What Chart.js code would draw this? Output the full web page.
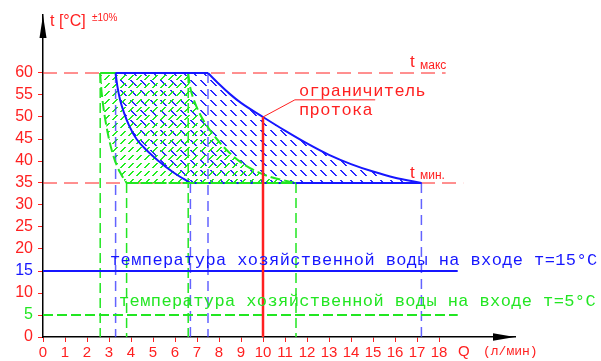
<!DOCTYPE html>
<html lang="ru">
<head>
<meta charset="UTF-8">
<title>Температура / расход</title>
<script src="https://cdnjs.cloudflare.com/ajax/libs/Chart.js/4.4.1/chart.umd.min.js"></script>
<style>
    html, body { margin: 0; padding: 0; background: #fff; }
    #wrap { width: 601px; height: 361px; }
</style>
</head>
<body>
<div id="wrap"><canvas id="chart" width="601" height="361"></canvas></div>
<script>
// axis ticks
const xTicks = [0, 1, 2, 3, 4, 5, 6, 7, 8, 9, 10, 11, 12, 13, 14, 15, 16, 17, 18];
const yTicks = [0, 5, 10, 15, 20, 25, 30, 35, 40, 45, 50, 55, 60];

// limits of outlet temperature
const tMax = 60;
const tMin = 35;

// zone for inlet water 15 °C (blue)
const blueLeftQ = [3.3, 3.38, 3.5, 3.68, 3.92, 4.25, 4.7, 5.25, 5.9, 6.7];
const blueLeftT = [60, 57, 54, 51, 48, 45, 42.5, 40, 37.5, 35];
const blueRightQ = [7.5, 8, 8.5, 9, 10, 11, 12, 13, 14, 15, 16, 17.2];
const blueRightT = [60, 57.5, 55.2, 53.2, 50, 46.9, 44, 41.4, 39.3, 37.6, 36.2, 35];

// zone for inlet water 5 °C (green)
const greenLeftQ = [2.6, 2.64, 2.7, 2.78, 2.88, 3.0, 3.15, 3.35, 3.55, 3.8];
const greenLeftT = [60, 57, 54, 51, 48, 45, 42, 39, 37, 35];
const greenRightQ = [6.6, 6.68, 6.85, 7.1, 7.45, 7.9, 8.45, 9.2, 10.2, 11.5];
const greenRightT = [60, 57, 54, 51, 48, 45, 42, 39, 36.6, 35];

// vertical projections to the Q axis
const blueDropQ = [3.3, 6.7, 7.5, 17.2];
const blueDropT = [60, 35, 60, 35];
const greenDropQ = [2.6, 3.8, 6.6, 11.5];
const greenDropT = [60, 35, 60, 35];

// inlet temperature lines
const inletT = [15, 5];
const inletEndQ = 18.85;

// flow limiter
const limiterQ = 10;
const limiterT = 50;

const RED = '#ff2020';
const BLUE = '#1616ff';
const GREEN = '#22e622';

const pts = (qs, ts) => qs.map((q, i) => ({x: q, y: ts[i]}));

function drops(qs, ts) {
    const out = [];
    qs.forEach((q, i) => {
        out.push({x: q, y: ts[i]}, {x: q, y: 0}, {x: q, y: null});
    });
    return out;
}

// pixel hatch, no antialiasing like the original drawing
function hatch(color, size, len, down) {
    const c = document.createElement('canvas');
    c.width = size;
    c.height = size;
    const g = c.getContext('2d');
    g.fillStyle = color;
    for (let i = 0; i < len; i++) {
        g.fillRect(i, down ? i : size - 1 - i, 2, 1);
    }
    return g.createPattern(c, 'repeat');
}

const blueFill = [...pts(blueRightQ, blueRightT), ...pts(blueLeftQ, blueLeftT).reverse()];
const greenFill = [...pts(greenRightQ, greenRightT), ...pts(greenLeftQ, greenLeftT).reverse()];

const base = {pointRadius: 0, fill: false, tension: 0, borderCapStyle: 'butt'};
const curve = {cubicInterpolationMode: 'monotone'};

const datasets = [
    // reference levels
    {...base, data: [{x: 0, y: tMax}, {x: 18.3, y: tMax}], borderColor: RED, borderWidth: 1, borderDash: [14, 7], order: 20},
    {...base, data: [{x: 0, y: tMin}, {x: 19.1, y: tMin}], borderColor: RED, borderWidth: 1, borderDash: [14, 7], order: 20},
    // fills
    {...base, ...curve, data: blueFill, borderWidth: 0, borderColor: 'rgba(0,0,0,0)', fill: 'shape', backgroundColor: hatch('#2a2aff', 10, 6, true), order: 19},
    {...base, ...curve, data: greenFill, borderWidth: 0, borderColor: 'rgba(0,0,0,0)', fill: 'shape', backgroundColor: hatch('#22ee22', 8, 5, false), order: 18},
    // projections
    {...base, data: drops(blueDropQ, blueDropT), borderColor: 'rgba(60,60,255,0.8)', borderWidth: 1.5, borderDash: [10, 6], order: 17},
    {...base, data: drops(greenDropQ, greenDropT), borderColor: GREEN, borderWidth: 1.5, borderDash: [10, 5], order: 16},
    // green outline
    {...base, data: [{x: greenLeftQ[0], y: tMax}, {x: greenRightQ[0], y: tMax}], borderColor: GREEN, borderWidth: 2, order: 15},
    {...base, ...curve, data: pts(greenLeftQ, greenLeftT), borderColor: GREEN, borderWidth: 2, borderDash: [10, 4], order: 15},
    {...base, ...curve, data: pts(greenRightQ, greenRightT), borderColor: GREEN, borderWidth: 2, borderDash: [10, 4], order: 15},
    // blue outline
    {...base, data: [{x: blueLeftQ[0], y: tMax}, {x: blueRightQ[0], y: tMax}], borderColor: BLUE, borderWidth: 2, order: 14},
    {...base, data: [{x: blueLeftQ[blueLeftQ.length - 1], y: tMin}, {x: blueRightQ[blueRightQ.length - 1], y: tMin}], borderColor: BLUE, borderWidth: 2, order: 14},
    {...base, ...curve, data: pts(blueLeftQ, blueLeftT), borderColor: BLUE, borderWidth: 2, order: 14},
    {...base, ...curve, data: pts(blueRightQ, blueRightT), borderColor: BLUE, borderWidth: 2, order: 14},
    {...base, data: [{x: greenLeftQ[greenLeftQ.length - 1], y: tMin}, {x: greenRightQ[greenRightQ.length - 1], y: tMin}], borderColor: GREEN, borderWidth: 2, borderDash: [12, 2], order: 13},
    // inlet temperatures
    {...base, data: [{x: 0, y: inletT[0]}, {x: inletEndQ, y: inletT[0]}], borderColor: BLUE, borderWidth: 2, order: 12},
    {...base, data: [{x: 0, y: inletT[1]}, {x: inletEndQ, y: inletT[1]}], borderColor: GREEN, borderWidth: 2, borderDash: [10, 4], order: 12},
    // flow limiter
    {...base, data: [{x: limiterQ, y: 0}, {x: limiterQ, y: limiterT}], borderColor: RED, borderWidth: 2.5, order: 11}
];

const decor = {
    id: 'decor',
    afterDraw(chart) {
        const {ctx, scales: {x, y}} = chart;
        const X = v => x.getPixelForValue(v);
        const Y = v => y.getPixelForValue(v);
        ctx.save();
        // axis arrows
        ctx.fillStyle = '#000';
        ctx.beginPath();
        ctx.moveTo(x.left, y.top);
        ctx.lineTo(x.left - 3.5, y.top + 23);
        ctx.lineTo(x.left + 3.5, y.top + 23);
        ctx.closePath();
        ctx.fill();
        ctx.beginPath();
        ctx.moveTo(x.right, y.bottom);
        ctx.lineTo(x.right - 22, y.bottom - 3.7);
        ctx.lineTo(x.right - 22, y.bottom + 3.7);
        ctx.closePath();
        ctx.fill();

        // leader of the flow limiter
        ctx.strokeStyle = RED;
        ctx.lineWidth = 1;
        ctx.beginPath();
        ctx.moveTo(X(limiterQ), Y(limiterT));
        ctx.lineTo(X(11.45), Y(53.9));
        ctx.lineTo(X(15.1), Y(53.9));
        ctx.stroke();

        ctx.textBaseline = 'middle';
        ctx.textAlign = 'left';
        ctx.fillStyle = RED;
        ctx.font = '16px "Liberation Sans", Arial, sans-serif';
        ctx.fillText('t [°C]', 50, 22);
        ctx.font = '10px "Liberation Sans", Arial, sans-serif';
        ctx.fillText('±10%', 92, 18);

        ctx.font = '17px "Liberation Sans", Arial, sans-serif';
        ctx.fillText('t', 410, Y(tMax) - 11);
        ctx.fillText('t', 410, Y(tMin) - 10);
        ctx.font = '12px "Liberation Sans", Arial, sans-serif';
        ctx.fillText('макс', 420, Y(tMax) - 7);
        ctx.fillText('мин.', 420, Y(tMin) - 7);

        ctx.font = '15px "Liberation Sans", Arial, sans-serif';
        ctx.fillText('Q', 458, 352);
        ctx.font = '13px "Liberation Mono", "Courier New", monospace';
        ctx.fillText('(л/мин)', 483, 352);

        ctx.font = '17px "Liberation Mono", "Courier New", monospace';
        ctx.letterSpacing = '0.4px';
        ctx.fillText('ограничитель', 299, 91.5);
        ctx.fillText('протока', 299, 110);
        ctx.fillStyle = BLUE;
        ctx.fillText('температура хозяйственной воды на входе т=15°C', 110, 260);
        ctx.fillStyle = GREEN;
        ctx.fillText('температура хозяйственной воды на входе т=5°C', 119, 301.5);
        ctx.restore();
    }
};

new Chart(document.getElementById('chart'), {
    type: 'line',
    data: {datasets},
    options: {
        responsive: false,
        animation: false,
        devicePixelRatio: 1,
        parsing: false,
        spanGaps: false,
        layout: {padding: {top: 15, right: 86, left: 0, bottom: 0}},
        plugins: {legend: {display: false}, tooltip: {enabled: false}},
        scales: {
            x: {
                type: 'linear',
                min: 0,
                max: 472 / 22,
                afterBuildTicks: s => { s.ticks = xTicks.map(v => ({value: v})); },
                afterFit: s => { s.height = 24; },
                grid: {drawOnChartArea: false, tickLength: 5, tickColor: RED, tickWidth: 1},
                border: {color: '#000', width: 1.5},
                ticks: {color: RED, padding: 2, autoSkip: false, maxRotation: 0,
                        font: {family: '"Liberation Sans", Arial, sans-serif', size: 15}}
            },
            y: {
                type: 'linear',
                min: 0,
                max: 322 / 4.4,
                afterBuildTicks: s => { s.ticks = yTicks.map(v => ({value: v})); },
                afterFit: s => { s.width = 43; },
                grid: {drawOnChartArea: false, tickLength: 5, tickColor: RED, tickWidth: 1},
                border: {color: '#000', width: 1.5},
                ticks: {
                    padding: 5,
                    autoSkip: false,
                    color: c => c.tick.value === 15 ? BLUE : (c.tick.value === 5 ? GREEN : RED),
                    font: {family: '"Liberation Sans", Arial, sans-serif', size: 16}
                }
            }
        }
    },
    plugins: [decor]
});
</script>
</body>
</html>
